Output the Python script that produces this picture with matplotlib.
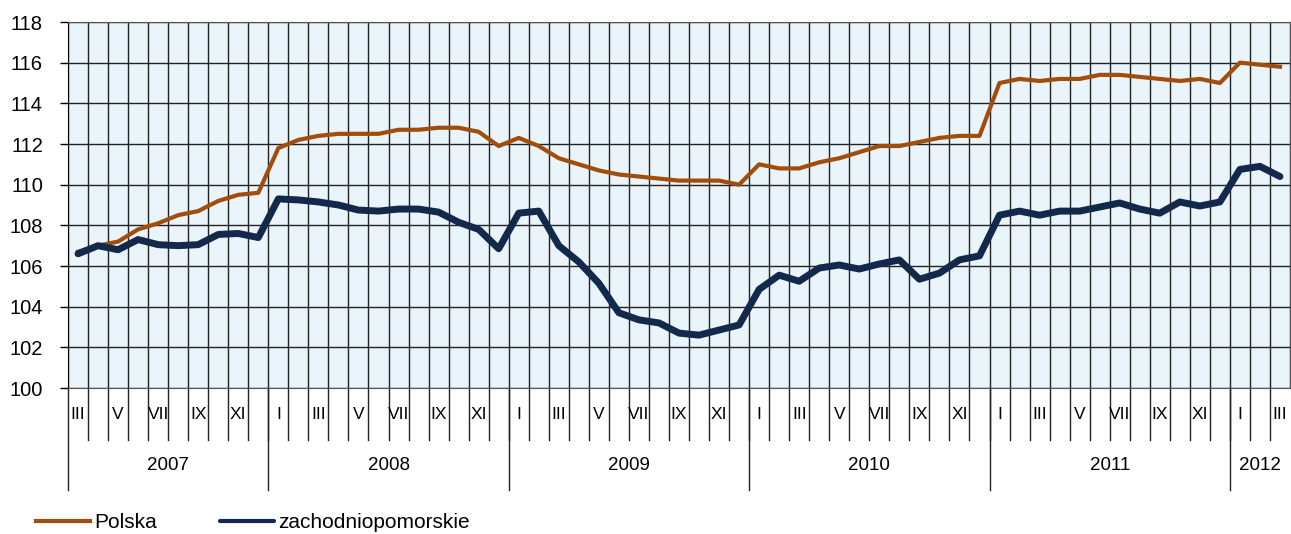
import numpy as np
import matplotlib
matplotlib.use("Agg")
import matplotlib.pyplot as plt

plt.rcParams['font.family'] = ['Liberation Sans', 'DejaVu Sans']

# monthly values, III 2007 - III 2012
polska = [106.7, 107.0, 107.2, 107.8, 108.1, 108.5, 108.7, 109.2, 109.5, 109.6,
          111.8, 112.2, 112.4, 112.5, 112.5, 112.5, 112.7, 112.7, 112.8, 112.8, 112.6, 111.9,
          112.3, 111.9, 111.3, 111.0, 110.7, 110.5, 110.4, 110.3, 110.2, 110.2, 110.2, 110.0,
          111.0, 110.8, 110.8, 111.1, 111.3, 111.6, 111.9, 111.9, 112.1, 112.3, 112.4, 112.4,
          115.0, 115.2, 115.1, 115.2, 115.2, 115.4, 115.4, 115.3, 115.2, 115.1, 115.2, 115.0,
          116.0, 115.9, 115.8]
zachodniopomorskie = [106.6, 107.0, 106.8, 107.3, 107.05, 107.0, 107.05, 107.55, 107.6, 107.4,
                      109.3, 109.25, 109.15, 109.0, 108.75, 108.7, 108.8, 108.8, 108.65, 108.15, 107.8, 106.85,
                      108.6, 108.7, 107.0, 106.2, 105.15, 103.7, 103.35, 103.2, 102.7, 102.6, 102.85, 103.1,
                      104.85, 105.55, 105.25, 105.9, 106.05, 105.85, 106.1, 106.3, 105.35, 105.65, 106.3, 106.5,
                      108.5, 108.7, 108.5, 108.7, 108.7, 108.9, 109.1, 108.8, 108.6, 109.15, 108.95, 109.15,
                      110.75, 110.9, 110.4]

year_2007 = ['III', '', 'V', '', 'VII', '', 'IX', '', 'XI', '']
full_year = ['I', '', 'III', '', 'V', '', 'VII', '', 'IX', '', 'XI', '']
year_2012 = ['I', '', 'III']
month_labels = year_2007 + full_year * 4 + year_2012
years = ['2007', '2008', '2009', '2010', '2011', '2012']
months_in_year = [10, 12, 12, 12, 12, 3]

x = np.arange(len(polska))

fig = plt.figure(figsize=(12.91, 5.34), dpi=100)
ax = fig.add_axes([68 / 1291, 146 / 534, 1222 / 1291, 366 / 534])
ax.set_facecolor('#EAF4FB')

ax.plot(x, polska, color='#A24D0B', lw=3, label='Polska', zorder=3)
ax.plot(x, zachodniopomorskie, color='#13294B', lw=5, label='zachodniopomorskie',
        zorder=4, solid_capstyle='round')

ax.set_xlim(-0.5, len(x) - 0.5)
ax.set_ylim(100, 118)
ax.set_yticks(np.arange(100, 119, 2))
ax.tick_params(axis='y', labelsize=14.5, length=6, width=1, color='black', pad=12)

# vertical grid at month boundaries
bounds = np.arange(-0.5, len(x), 1)
ax.set_xticks(bounds)
ax.set_xticklabels([])
ax.tick_params(axis='x', length=0)
ax.grid(True, color='#222222', lw=1, zorder=1)
ax.set_axisbelow(True)
for s in ax.spines.values():
    s.set_color('#555555')
ax.spines['left'].set_color('black')

tr = ax.get_xaxis_transform()
# month boundary ticks below the axis
for b in bounds[1:-1]:
    ax.plot([b, b], [0, -0.141], color='#222222', lw=1, transform=tr, clip_on=False)
# month labels
for i, lab in enumerate(month_labels):
    if lab:
        ax.text(i, -0.072, lab, transform=tr, ha='center', va='center', fontsize=12.5)
# year separators and labels
start = -0.5
for yr, n in zip(years, months_in_year):
    ax.plot([start, start], [0, -0.278], color='#222222', lw=1, transform=tr, clip_on=False)
    ax.text(start + n / 2, -0.213, yr, transform=tr, ha='center', va='center', fontsize=13.5)
    start += n

h, l = ax.get_legend_handles_labels()
leg = fig.legend(h, l, loc='center left', bbox_to_anchor=(36 / 1291, 1 - 523 / 534),
                 ncol=2, frameon=False, fontsize=15, handlelength=2.6,
                 handletextpad=0.2, columnspacing=3.0, borderpad=0, borderaxespad=0)
for ln in leg.get_lines():
    ln.set_linewidth(3)

fig.savefig('out.png', dpi=100)
